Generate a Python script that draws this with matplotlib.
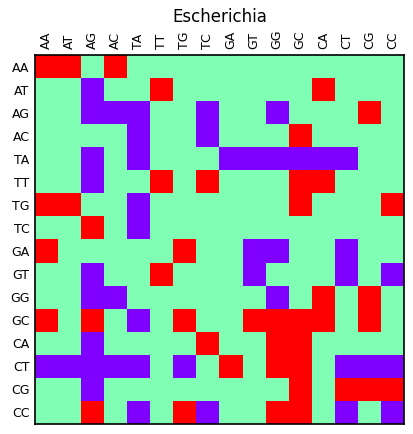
import numpy as np
import matplotlib
matplotlib.use("Agg")
import matplotlib.pyplot as plt

labels = ["AA", "AT", "AG", "AC", "TA", "TT", "TG", "TC",
          "GA", "GT", "GG", "GC", "CA", "CT", "CG", "CC"]

# P = purple (0), G = green (0.5), R = red (1)
rows = [
    "RRGRGGGGGGGGGGGG",  # AA
    "GGPGGRGGGGGGRGGG",  # AT
    "GGPPPGGPGGPGGGRG",  # AG
    "GGGGPGGPGGGRGGGG",  # AC
    "GGPGPGGGPPPPPPGG",  # TA
    "GGPGGRGRGGGRRGGG",  # TT
    "RRGGPGGGGGGRGGGR",  # TG
    "GGRGPGGGGGGGGGGG",  # TC
    "RGGGGGRGGPPGGPGG",  # GA
    "GGPGGRGGGPGGGPGP",  # GT
    "GGPPGGGGGGPGRGRG",  # GG
    "RGRGPGRGGRRRRGRG",  # GC
    "GGPGGGGRGGRRGGGG",  # CA
    "PPPPPGPGRGRRGPPP",  # CT
    "GGPGGGGGGGGRGRRR",  # CG
    "GGRGPGRPGGRRGPGP",  # CC
]
code = {"P": 0.0, "G": 0.5, "R": 1.0}
values = np.array([[code[c] for c in r] for r in rows])

fig = plt.figure(figsize=(4.13, 4.34), dpi=100)
ax = fig.add_axes([35 / 413, 10 / 434, 369 / 413, 369 / 434])
ax.imshow(values, cmap="rainbow", vmin=0, vmax=1, interpolation="nearest", aspect="auto")
ax.set_xticks(range(16))
ax.set_yticks(range(16))
ax.set_xticklabels(labels, rotation=90, fontsize=9)
ax.set_yticklabels(labels, fontsize=9)
ax.xaxis.tick_top()
ax.tick_params(length=0, pad=4)
for s in ax.spines.values():
    s.set_linewidth(1.2)
fig.text((35 + 404) / 2 / 413, 1 - 17 / 434, "Escherichia", ha="center", va="center", fontsize=12)
fig.savefig("out.png", dpi=100)
